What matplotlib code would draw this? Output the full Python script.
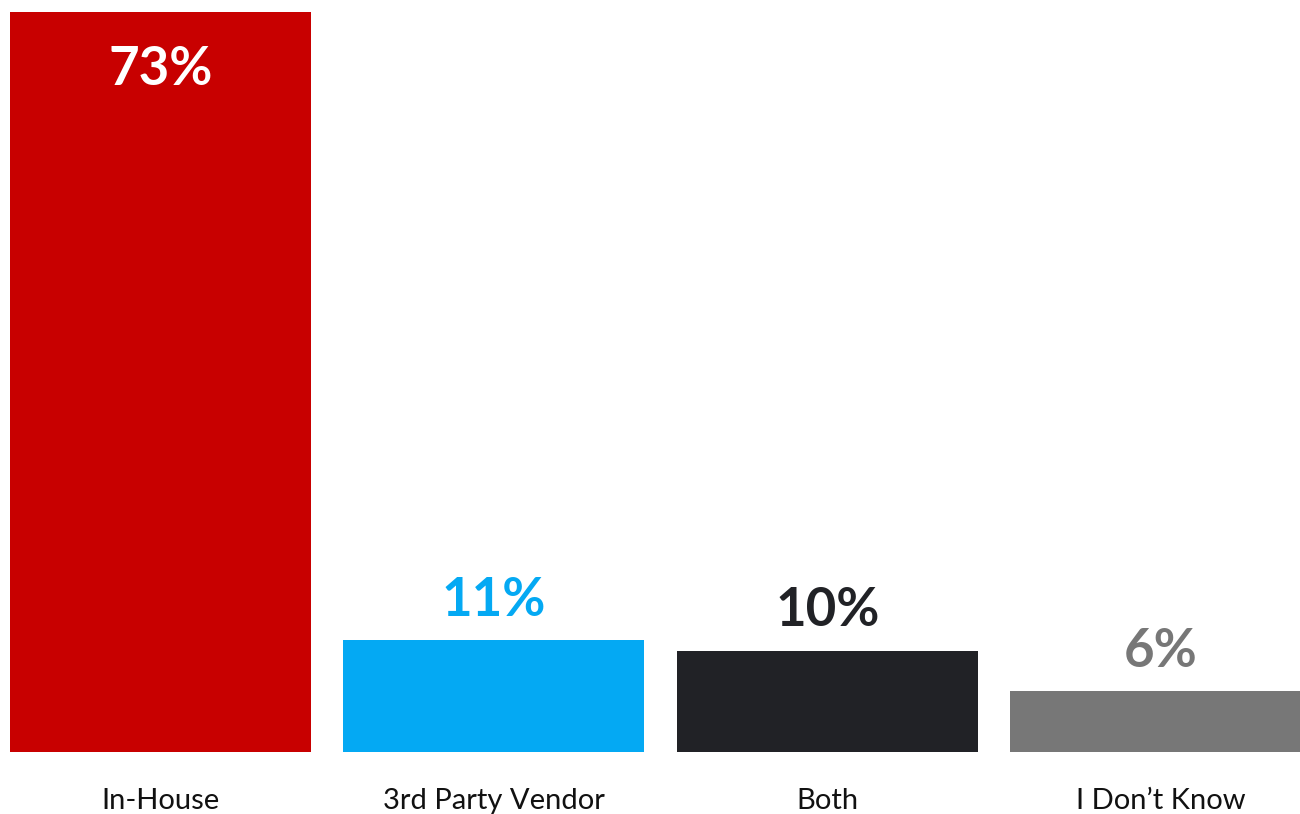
import matplotlib.pyplot as plt

categories = ['In-House', '3rd Party Vendor', 'Both', 'I Don\u2019t Know']
values = [73, 11, 10, 6]
colors = ['#C80000', '#04A9F3', '#212226', '#777777']
label_colors = ['white', '#04A9F3', '#212226', '#777777']

plt.rcParams['font.family'] = ['Lato', 'DejaVu Sans']

fig = plt.figure(figsize=(13, 8.14), dpi=100)
ax = fig.add_axes([0, 62 / 814, 1, 752 / 814])

x = list(range(len(categories)))
ax.bar(x, values, width=0.903, color=colors)

ax.set_xlim(-0.4814, 3.418)
ax.set_ylim(0, 74.16)

for i, v in enumerate(values):
    if i == 0:
        # big bar: label inside, near the top
        ax.annotate(f'{v}%', (i, v), xytext=(0, -59), textcoords='offset points',
                    ha='center', va='bottom', fontsize=38, fontweight='bold',
                    color=label_colors[i])
    else:
        ax.annotate(f'{v}%', (i, v), xytext=(0, 11), textcoords='offset points',
                    ha='center', va='bottom', fontsize=38, fontweight='bold',
                    color=label_colors[i])

ax.set_xticks(x)
ax.set_xticklabels(categories, fontsize=21, color='#111111')
ax.tick_params(axis='x', length=0, pad=26)
ax.set_yticks([])
for s in ax.spines.values():
    s.set_visible(False)

fig.savefig('out.png', dpi=100)
